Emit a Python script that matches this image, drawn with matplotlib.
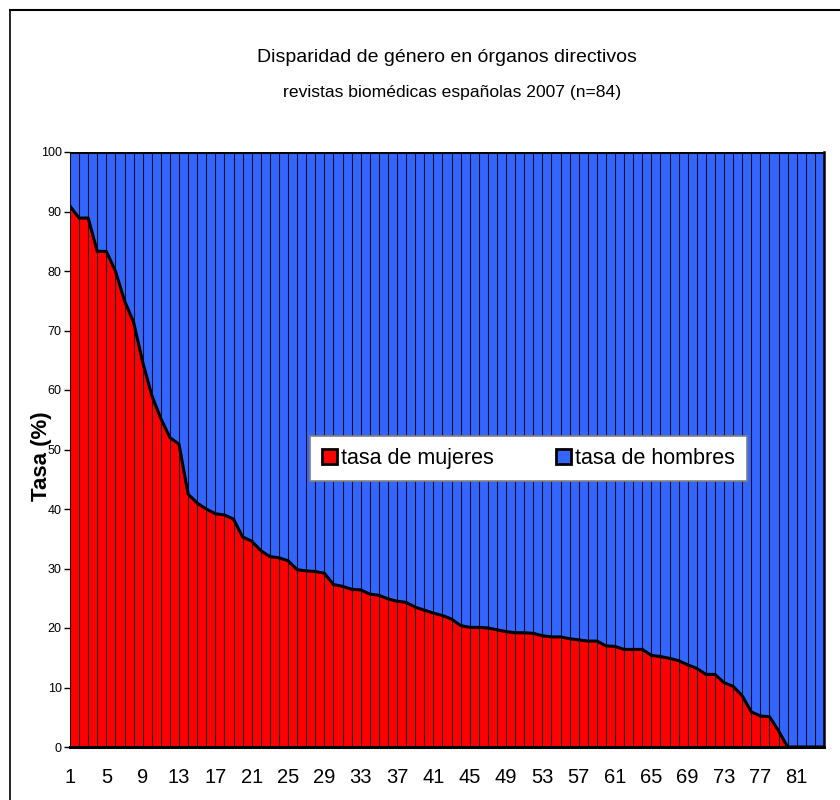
import matplotlib
matplotlib.use("Agg")
import matplotlib.pyplot as plt
from matplotlib.patches import Rectangle
from matplotlib.lines import Line2D

plt.rcParams['font.family'] = ['Liberation Sans', 'DejaVu Sans']

# journals sorted by share of women on the editorial board
revistas = list(range(1, 85))
mujeres = [90.9, 88.9, 88.9, 83.3, 83.3, 80.0, 75.0, 71.4, 64.7, 59.1,
           55.2, 52.0, 50.9, 42.5, 41.0, 40.0, 39.2, 39.0, 38.3, 35.3,
           34.6, 33.0, 32.0, 31.8, 31.3, 29.8, 29.6, 29.5, 29.2, 27.3,
           27.0, 26.5, 26.4, 25.7, 25.5, 24.9, 24.5, 24.3, 23.5, 23.0,
           22.5, 22.1, 21.5, 20.4, 20.1, 20.1, 20.0, 19.7, 19.4, 19.2,
           19.2, 19.1, 18.7, 18.5, 18.5, 18.2, 18.0, 17.8, 17.8, 17.0,
           16.9, 16.4, 16.4, 16.4, 15.4, 15.2, 14.9, 14.5, 13.8, 13.2,
           12.2, 12.2, 10.8, 10.2, 8.6, 5.9, 5.2, 5.1, 2.7, 0.0,
           0.0, 0.0, 0.0, 0.0]
# the rest of each board is men
hombres = [100 - m for m in mujeres]

xticks = list(range(1, 85, 4))
yticks = list(range(0, 101, 10))

rojo = '#ff0000'
azul = '#3366ff'

fig = plt.figure(figsize=(8.4, 8.0), dpi=100)
ax = fig.add_axes([70/840, 1 - 747/800, (824 - 70)/840, (747 - 152)/800])

ax.stackplot(revistas, mujeres, hombres, colors=[rojo, azul], linewidth=0)
ax.vlines(revistas, 0, 100, color='black', lw=0.8, alpha=0.85)
ax.plot(revistas, mujeres, color='black', lw=2.2, solid_joinstyle='round')
ax.axhline(100, color='black', lw=2.2)

ax.set_xlim(1, 84)
ax.set_ylim(0, 100)
ax.set_xticks(xticks)
ax.set_xticklabels([str(t) for t in xticks], fontsize=14.5)
ax.set_yticks(yticks)
ax.set_yticklabels([str(t) for t in yticks], fontsize=9)
ax.tick_params(axis='x', length=0, pad=15)
ax.tick_params(axis='y', length=4, width=1, pad=2)

for s in ['top', 'left']:
    ax.spines[s].set_visible(False)
ax.spines['bottom'].set_linewidth(2.2)
ax.spines['right'].set_linewidth(1.8)

handles = [Rectangle((0, 0), 1, 1, facecolor=rojo, edgecolor='black', lw=2),
           Rectangle((0, 0), 1, 1, facecolor=azul, edgecolor='black', lw=2)]
leg = ax.legend(handles, ['tasa de mujeres', 'tasa de hombres'], ncol=2,
                loc='center', bbox_to_anchor=(0.608, 0.485), fontsize=15.5,
                frameon=True, fancybox=False, framealpha=1,
                handlelength=0.7, handleheight=0.7, handletextpad=0.2,
                columnspacing=2.9, borderpad=0.55, borderaxespad=0)
leg.get_frame().set_edgecolor('#808080')
leg.get_frame().set_linewidth(1.2)

fig.text(447/840, 1 - 58/800, 'Disparidad de género en órganos directivos',
         ha='center', va='center', fontsize=14)
fig.text(452/840, 1 - 93/800, 'revistas biomédicas españolas 2007 (n=84)',
         ha='center', va='center', fontsize=12.6)
fig.text(41/840, 1 - 456/800, 'Tasa (%)', rotation=90, ha='center',
         va='center', fontsize=16, fontweight='bold')

# outer chart border (cropped on the right and bottom)
fig.add_artist(Line2D([10/840, 10/840], [0, 1 - 10/800], color='black', lw=1.2))
fig.add_artist(Line2D([10/840, 1], [1 - 10/800, 1 - 10/800], color='black', lw=1.5))

fig.savefig('out.png', dpi=100)
